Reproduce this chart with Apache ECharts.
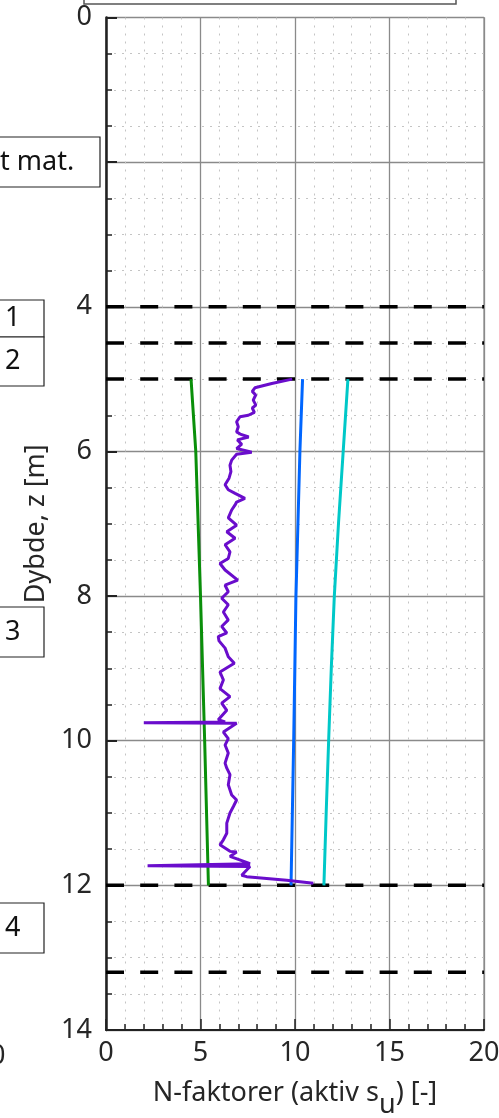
<!DOCTYPE html>
<html>
<head>
<meta charset="utf-8">
<script src="https://cdn.jsdelivr.net/npm/echarts@6/dist/echarts.min.js"></script>
<style>
  html, body { margin: 0; padding: 0; background: #fff; }
  #chart { width: 499px; height: 1118px; }
</style>
</head>
<body>
<div id="chart"></div>
<script>
// dybder for lagskiller (stiplede linjer)
const layerDepths = [4, 4.5, 5, 12, 13.2]

// N-faktorer mot dybde
const greenZ = [5, 6, 8, 10, 12]
const greenN = [4.5, 4.75, 5.0, 5.22, 5.42]
const blueZ = [5, 6, 8, 10, 12]
const blueN = [10.4, 10.26, 10.05, 9.93, 9.79]
const cyanZ = [5, 6, 7, 8, 9, 10, 11, 12]
const cyanN = [12.8, 12.55, 12.3, 12.08, 11.92, 11.78, 11.65, 11.53]

const purpleZ = [
  5.00, 5.06, 5.12, 5.17, 5.22, 5.29, 5.36, 5.40, 5.46, 5.50, 5.52, 5.59, 5.66, 5.73, 5.76, 5.80,
  5.84, 5.90, 5.96, 6.01, 6.04, 6.12, 6.19, 6.28, 6.37, 6.46, 6.53, 6.58, 6.65, 6.70, 6.74, 6.81,
  6.92, 7.02, 7.11, 7.20, 7.29, 7.39, 7.48, 7.55, 7.64, 7.78, 7.85, 7.94, 8.03, 8.12, 8.22, 8.33,
  8.42, 8.51, 8.56, 8.62, 8.72, 8.84, 8.93, 9.05, 9.16, 9.28, 9.39, 9.48, 9.58, 9.71, 9.74, 9.75,
  9.76, 9.78, 9.88, 9.97, 10.06, 10.17, 10.31, 10.38, 10.47, 10.61, 10.75, 10.82, 10.91, 11.00,
  11.14, 11.28, 11.37, 11.44, 11.53, 11.54, 11.60, 11.70, 11.73, 11.74, 11.86, 11.88, 11.93, 11.97
]
const purpleN = [
  9.85, 8.77, 7.88, 7.74, 7.92, 7.79, 7.93, 7.74, 7.85, 7.53, 7.09, 6.91, 7.00, 6.91, 7.10, 7.55,
  6.95, 7.18, 6.91, 7.71, 6.91, 6.65, 6.56, 6.61, 6.51, 6.30, 6.47, 6.83, 7.35, 6.91, 6.83, 6.65,
  6.47, 6.91, 6.39, 6.83, 6.30, 6.56, 6.47, 6.03, 6.30, 6.97, 6.30, 6.47, 6.12, 6.47, 6.21, 6.47,
  6.12, 6.39, 5.94, 5.98, 6.30, 6.47, 6.79, 6.03, 6.21, 6.03, 6.56, 6.12, 6.39, 5.94, 6.30, 2.00,
  6.91, 6.83, 6.21, 6.47, 6.30, 6.47, 6.30, 6.39, 6.56, 6.47, 6.65, 6.91, 6.74, 6.56,
  6.39, 6.39, 6.21, 6.03, 6.56, 6.91, 6.56, 7.62, 2.20, 7.62, 7.18, 7.44, 9.56, 10.97
]

const pairs = (xs, zs) => xs.map((x, i) => [x, zs[i]])
const fontFamily = 'Noto Sans'
const txt = '#262626'
const fs = 27

const dashedSeries = layerDepths.map(z => ({
  type: 'line',
  data: [[0, z], [20, z]],
  symbol: 'none',
  silent: true,
  lineStyle: { color: '#000', width: 3.5, type: [18, 16.2] },
  z: 3
}))

const lineSeries = (xs, zs, color, width) => ({
  type: 'line',
  data: pairs(xs, zs),
  symbol: 'none',
  lineStyle: { color: color, width: width },
  z: 4
})

// tekstbokser til venstre
const boxes = [
  { y: 137, h: 50, label: 't mat.', tx: 0, right: 100 },
  { y: 300, h: 37, label: '1', tx: 5, right: 44 },
  { y: 337, h: 49, label: '2', tx: 5, right: 44 },
  { y: 607, h: 50, label: '3', tx: 5, right: 44 },
  { y: 903, h: 50, label: '4', tx: 5, right: 44 }
]

const graphics = []
boxes.forEach(b => {
  graphics.push({
    type: 'rect',
    shape: { x: -5, y: b.y, width: b.right + 5, height: b.h },
    style: { fill: '#fff', stroke: '#222', lineWidth: 1.2 },
    z: 100
  })
  graphics.push({
    type: 'text',
    x: b.tx, y: b.y + b.h / 2,
    style: { text: b.label, fontSize: fs, fontFamily: fontFamily, fill: '#111', verticalAlign: 'middle' },
    z: 101
  })
})
// boks over plottet (avkuttet)
graphics.push({
  type: 'rect',
  shape: { x: 84, y: -20, width: 372, height: 24 },
  style: { fill: '#fff', stroke: '#555', lineWidth: 1.5 },
  z: 100
})
// avkuttet akse-etikett fra nabo-plott
graphics.push({
  type: 'text',
  x: -10, y: 1056,
  style: { text: '0', fontSize: fs, fontFamily: fontFamily, fill: txt, verticalAlign: 'middle' },
  z: 100
})

const chart = echarts.init(document.getElementById('chart'))
chart.setOption({
  animation: false,
  grid: {
    left: 106, right: 15, top: 17.5, bottom: 88,
    show: true, borderColor: '#888', borderWidth: 1.2,
    outerBoundsMode: 'none'
  },
  xAxis: {
    type: 'value',
    min: 0, max: 20, interval: 5,
    name: 'N-faktorer (aktiv s{sub|u}) [-]',
    nameLocation: 'middle',
    nameGap: 38,
    nameTextStyle: {
      fontSize: fs, fontFamily: fontFamily, color: txt,
      rich: { sub: { fontSize: fs, fontFamily: fontFamily, color: txt, padding: [24, 0, 0, 0] } }
    },
    axisLine: { show: true, onZero: false, lineStyle: { color: '#222', width: 2 } },
    axisTick: { show: true, inside: true, length: 11, lineStyle: { color: '#222', width: 1.5 } },
    minorTick: { show: true, splitNumber: 5, length: 6, lineStyle: { color: '#222', width: 1.5 } },
    axisLabel: { fontSize: fs, fontFamily: fontFamily, color: txt, margin: 10 },
    splitLine: { show: true, lineStyle: { color: '#8a8a8a', width: 1.3 } },
    minorSplitLine: { show: true, lineStyle: { color: '#c4c4c4', width: 1, type: [2, 6] } }
  },
  yAxis: {
    type: 'value',
    inverse: true,
    min: 0, max: 14, interval: 2,
    name: 'Dybde, z [m]',
    nameLocation: 'middle',
    nameRotate: 90,
    nameGap: 50,
    nameTextStyle: { fontSize: fs, fontFamily: fontFamily, color: txt },
    axisLine: { show: true, onZero: false, lineStyle: { color: '#222', width: 2.5 } },
    axisTick: { show: true, inside: true, length: 11, lineStyle: { color: '#222', width: 2 } },
    minorTick: { show: true, splitNumber: 4, length: 6, lineStyle: { color: '#222', width: 1.5 } },
    axisLabel: { fontSize: fs, fontFamily: fontFamily, color: txt, margin: 14 },
    splitLine: { show: true, lineStyle: { color: '#8a8a8a', width: 1.3 } },
    minorSplitLine: { show: true, lineStyle: { color: '#c4c4c4', width: 1, type: [2, 6] } }
  },
  series: dashedSeries.concat([
    lineSeries(greenN, greenZ, '#0a8f0a', 3),
    lineSeries(blueN, blueZ, '#0066ff', 3),
    lineSeries(cyanN, cyanZ, '#00c8c8', 3),
    lineSeries(purpleN, purpleZ, '#6a0dcc', 3)
  ]),
  graphic: graphics
})
</script>
</body>
</html>
